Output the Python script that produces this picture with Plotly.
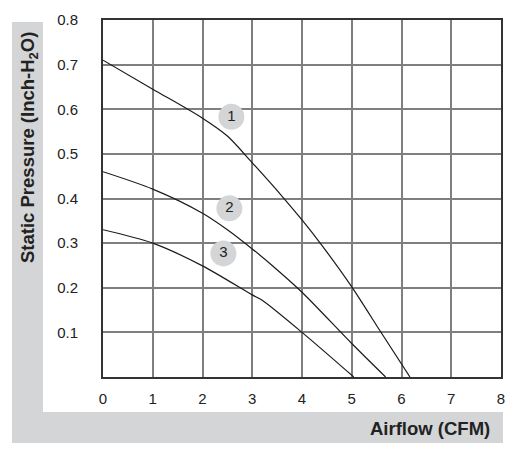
import plotly.graph_objects as go

# Data
c1_x = [0, 1, 2, 2.5, 3, 3.6, 4, 4.4, 5, 5.6, 6.17]
c1_y = [0.71, 0.645, 0.58, 0.54, 0.48, 0.405, 0.352, 0.295, 0.202, 0.098, 0]
c2_x = [0, 1, 2, 2.5, 3, 3.4, 4, 5, 5.68]
c2_y = [0.46, 0.421, 0.367, 0.33, 0.287, 0.25, 0.19, 0.075, 0]
c3_x = [0, 1, 2, 3, 3.2, 4, 5.04]
c3_y = [0.33, 0.30, 0.249, 0.184, 0.172, 0.10, 0]

label_names = ["1", "2", "3"]
label_x = [2.58, 2.54, 2.42]
label_y = [0.583, 0.378, 0.277]

x_ticks = [0, 1, 2, 3, 4, 5, 6, 7, 8]
y_ticks = [0.1, 0.2, 0.3, 0.4, 0.5, 0.6, 0.7, 0.8]

FONT = "Liberation Sans, Arial, sans-serif"
GRAY = "#d4d5d6"

fig = go.Figure()
for xs, ys in [(c1_x, c1_y), (c2_x, c2_y), (c3_x, c3_y)]:
    fig.add_trace(go.Scatter(x=xs, y=ys, mode="lines",
                             line=dict(color="#1a1a1a", width=1.2, shape="spline", smoothing=0.8),
                             showlegend=False, hoverinfo="skip"))

fig.add_trace(go.Scatter(x=label_x, y=label_y, mode="markers+text",
                         text=label_names, textposition="middle center",
                         textfont=dict(family=FONT, size=15, color="#222"),
                         marker=dict(size=26, color="#d4d5d6", line=dict(width=0)),
                         showlegend=False, hoverinfo="skip"))

L, R, T, B = 103, 23, 20, 82
W, H = 524, 459
pw, ph = W - L - R, H - T - B

def px(xp):
    return (xp - L) / pw

def py(yp):
    return (H - B - yp) / ph

shapes = [
    dict(type="rect", xref="paper", yref="paper", x0=px(12), x1=px(43), y0=py(443), y1=py(22),
         fillcolor=GRAY, line=dict(width=0), layer="below"),
    dict(type="rect", xref="paper", yref="paper", x0=px(12), x1=px(503), y0=py(443), y1=py(412),
         fillcolor=GRAY, line=dict(width=0), layer="below"),
]

annotations = [
    dict(text="<b>Static Pressure (Inch-H<sub>2</sub>O)</b>", xref="paper", yref="paper",
         x=px(29), y=py(148), textangle=-90, showarrow=False, xanchor="center", yanchor="middle",
         font=dict(family=FONT, size=18.5, color="#222")),
    dict(text="<b>Airflow (CFM)</b>", xref="paper", yref="paper",
         x=px(492), y=py(428), showarrow=False, xanchor="right", yanchor="middle",
         font=dict(family=FONT, size=18.5, color="#222")),
]

fig.update_layout(
    width=W, height=H, margin=dict(l=L, r=R, t=T, b=B),
    paper_bgcolor="white", plot_bgcolor="white",
    shapes=shapes, annotations=annotations,
    font=dict(family=FONT, size=15, color="#222"),
    xaxis=dict(range=[0, 8], tickvals=x_ticks, ticktext=[str(v) for v in x_ticks],
               tickfont=dict(family=FONT, size=15, color="#222"),
               showgrid=True, gridcolor="#7f7f7f", gridwidth=1.6,
               showline=True, linecolor="#333", linewidth=2, mirror=True,
               ticks="", ticklabelstandoff=7, zeroline=False, fixedrange=True),
    yaxis=dict(range=[0, 0.8], tickvals=y_ticks, ticktext=[f"{v:.1f}" for v in y_ticks],
               tickfont=dict(family=FONT, size=15, color="#222"),
               showgrid=True, gridcolor="#7f7f7f", gridwidth=1.6,
               showline=True, linecolor="#333", linewidth=2, mirror=True,
               ticks="", ticklabelstandoff=20, zeroline=False, fixedrange=True),
)

fig.write_html("out.html", config={"displayModeBar": False})
